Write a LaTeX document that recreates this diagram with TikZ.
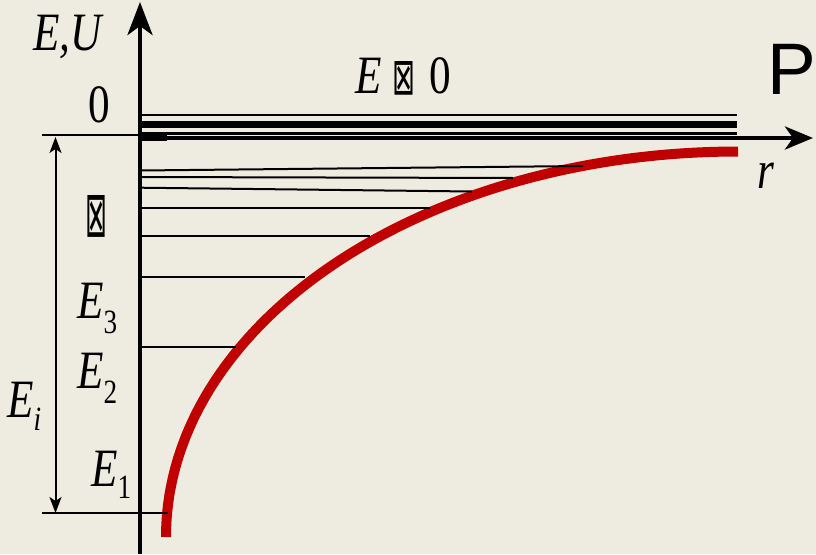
\documentclass[tikz,border=0pt]{standalone}
\usepackage{fontspec}
\setmainfont{Liberation Serif}
\newfontfamily\eqfont[FakeStretch=0.8]{Liberation Serif}
\newfontfamily\sansP{Liberation Sans}
\newfontfamily\dejavu{DejaVu Sans}
\usetikzlibrary{arrows.meta}
\definecolor{bg}{RGB}{238,235,224}
\definecolor{curvered}{RGB}{192,0,0}
\newcommand\tofubox[2]{\resizebox{#1}{#2}{\dejavu ⊠}}
\newcommand\lowsub[2][15pt]{\raisebox{-#1}{\fontsize{34}{34}\selectfont #2}}
\tikzset{
  bigtip/.tip={Stealth[length=33pt 0,width=25pt 0,inset=9pt 0]},
  rtip/.tip={Stealth[length=28pt 0,width=23pt 0,inset=8pt 0]},
  smalltip/.tip={Stealth[length=16pt 0,width=12pt 0,inset=4pt 0]}}
\begin{document}
\begin{tikzpicture}[x=1pt,y=-1pt,
  lbl/.style={inner sep=0pt, anchor=base west, font=\eqfont\fontsize{54}{60}\selectfont},
  level/.style={line width=2pt},
  axis/.style={line width=4.5pt}]
\fill[bg] (0,0) rectangle (816,554);
\useasboundingbox (0,0) rectangle (816,554);
% potential curve (quarter ellipse)
\draw[curvered, line width=10pt] plot[domain=0:90, samples=90, smooth] ({738-572*cos(\x)},{537-385.5*sin(\x)});
% bound levels
\coordinate (L1a) at (140,170.5); \coordinate (L1b) at (583,166);
\coordinate (L2a) at (140,177); \coordinate (L2b) at (513,178);
\coordinate (L3a) at (140,187.7); \coordinate (L3b) at (472,191.5);
\coordinate (L4a) at (140,208); \coordinate (L4b) at (430,208);
\coordinate (L5a) at (140,236); \coordinate (L5b) at (370,236);
\coordinate (L6a) at (140,277); \coordinate (L6b) at (305,277);
\coordinate (L7a) at (140,347); \coordinate (L7b) at (236,347);
\foreach \i in {1,...,7} {\draw[level] (L\i a) -- (L\i b);}
% continuum levels
\coordinate (C1a) at (140,115); \coordinate (C1b) at (737,115);
\coordinate (C2a) at (140,124.5); \coordinate (C2b) at (737,124.5);
\coordinate (C3a) at (140,133); \coordinate (C3b) at (737,133);
\draw[line width=2.8pt] (C1a) -- (C1b);
\draw[line width=6.5pt] (C2a) -- (C2b);
\draw[line width=3pt] (C3a) -- (C3b);
\coordinate (Sa) at (140,136.5); \coordinate (Sb) at (167,136.5);
\draw[line width=9pt] (Sa) -- (Sb);
% thin reference lines
\coordinate (Z0a) at (42,135); \coordinate (Z0b) at (140,135);
\draw[level] (Z0a) -- (Z0b);
\coordinate (E1a) at (42,513); \coordinate (E1b) at (168,513);
\draw[level] (E1a) -- (E1b);
% axes
\coordinate (O) at (140,138);
\coordinate (Ybot) at (140,554); \coordinate (Ytop) at (140,2);
\coordinate (Xend) at (813,138);
\draw[axis, -{bigtip}] (Ybot) -- (Ytop);
\draw[axis, -{rtip}] (O) -- (Xend);
% ionisation energy arrow
\coordinate (Atop) at (55.5,137); \coordinate (Abot) at (55.5,513);
\draw[level, {smalltip}-{smalltip}] (Atop) -- (Abot);
% labels
\node[lbl] (EU) at (33,50) {\itshape E,U};
\node[lbl] (zero) at (88,122) {0};
\node[lbl] (Ege) at (355,93) {{\itshape E}\hspace{11pt}\raisebox{-1pt}{\tofubox{23pt}{33pt}}\hspace{14pt}0};
\node[lbl, font=\sansP\fontsize{73}{80}\selectfont] (P) at (767,94) {P};
\node[lbl] (r) at (757,188) {\itshape r};
\node[lbl] (dots) at (85,236) {\tofubox{22pt}{41pt}};
\node[lbl] (E3) at (77,318) {{\itshape E}\lowsub{3}};
\node[lbl] (E2) at (77,388) {{\itshape E}\lowsub{2}};
\node[lbl] (Ei) at (7,417) {{\itshape E}\lowsub[13pt]{\itshape i}};
\node[lbl] (E1) at (91,486) {{\itshape E}\lowsub[12pt]{1}};
\end{tikzpicture}
\end{document}
